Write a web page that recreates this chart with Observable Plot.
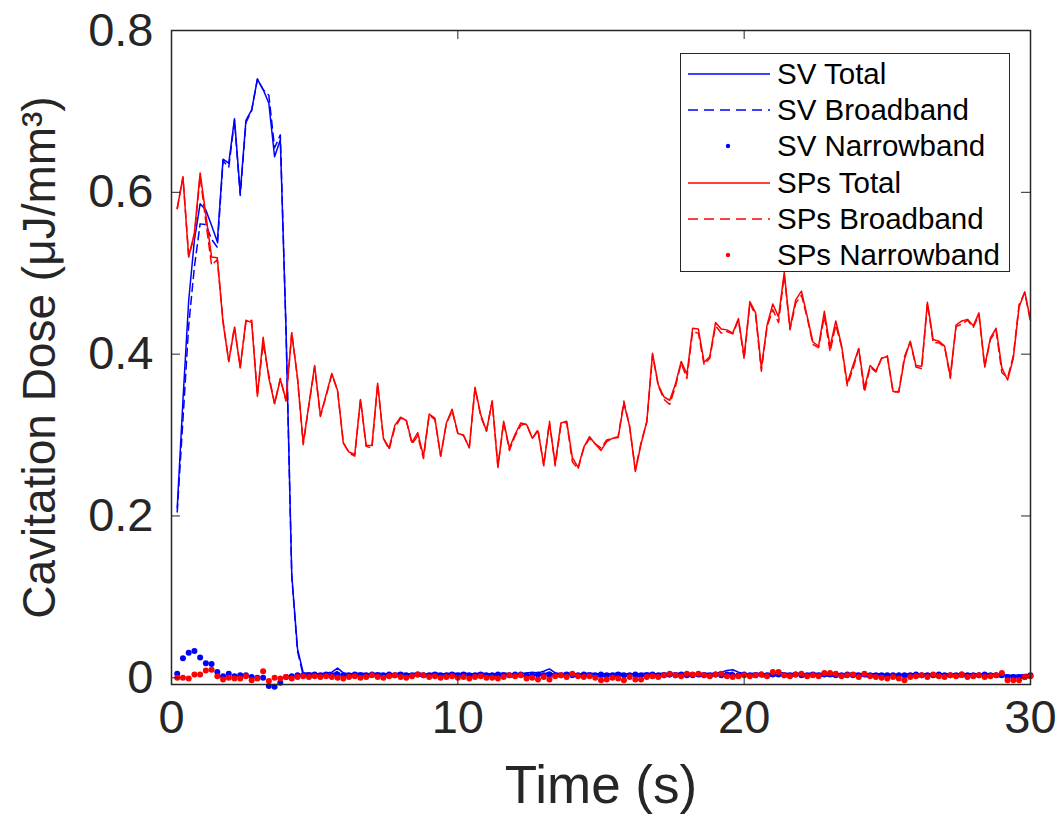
<!DOCTYPE html>
<html><head><meta charset="utf-8">
<script src="https://cdn.jsdelivr.net/npm/d3@7"></script>
<script src="https://cdn.jsdelivr.net/npm/@observablehq/plot@0.6"></script>
<style>
body{margin:0;background:#fff;}
#wrap{position:relative;width:1063px;height:824px;font-family:"Liberation Sans",Arial,sans-serif;}
#legend{position:absolute;left:680px;top:53px;width:328px;height:217px;border:1.5px solid #262626;background:#fff;}
.row{position:absolute;left:0;height:36px;display:flex;align-items:center;}
.row span{font-size:29.5px;color:#000;margin-left:6px;white-space:nowrap;}
</style>
</head><body>
<div id="wrap"><div id="legend"></div></div>
<script>
const time = [0.2,0.4,0.6,0.8,1.0,1.2,1.4,1.6,1.8,2.0,2.2,2.4,2.6,2.8,3.0,3.2,3.4,3.6,3.8,4.0,4.2,4.4,4.6,4.8,5.0,
5.2,5.4,5.6,5.8,6.0,6.2,6.4,6.6,6.8,7.0,7.2,7.4,7.6,7.8,8.0,8.2,8.4,8.6,8.8,9.0,9.2,9.4,9.6,9.8,10.0,
10.2,10.4,10.6,10.8,11.0,11.2,11.4,11.6,11.8,12.0,12.2,12.4,12.6,12.8,13.0,13.2,13.4,13.6,13.8,14.0,14.2,14.4,14.6,14.8,15.0,
15.2,15.4,15.6,15.8,16.0,16.2,16.4,16.6,16.8,17.0,17.2,17.4,17.6,17.8,18.0,18.2,18.4,18.6,18.8,19.0,19.2,19.4,19.6,19.8,20.0,
20.2,20.4,20.6,20.8,21.0,21.2,21.4,21.6,21.8,22.0,22.2,22.4,22.6,22.8,23.0,23.2,23.4,23.6,23.8,24.0,24.2,24.4,24.6,24.8,25.0,
25.2,25.4,25.6,25.8,26.0,26.2,26.4,26.6,26.8,27.0,27.2,27.4,27.6,27.8,28.0,28.2,28.4,28.6,28.8,29.0,29.2,29.4,29.6,29.8,30.0];

const svTotal = [0.210,0.343,0.466,0.541,0.586,0.578,0.559,0.539,0.641,0.636,0.691,0.599,0.689,0.702,0.740,0.727,0.710,0.644,0.665,0.430,0.127,0.036,0.006,
0.006,0.005,0.005,0.006,0.007,0.012,0.006,0.005,0.005,0.006,0.005,0.005,0.006,0.005,0.005,0.005,0.006,0.005,0.005,0.006,0.005,0.005,0.006,0.005,0.005,0.006,0.005,
0.006,0.005,0.005,0.006,0.005,0.005,0.005,0.006,0.005,0.005,0.005,0.006,0.007,0.006,0.008,0.011,0.006,0.005,0.006,0.005,0.005,0.005,0.006,0.005,0.005,
0.005,0.005,0.006,0.005,0.005,0.005,0.005,0.006,0.005,0.005,0.006,0.005,0.006,0.005,0.006,0.005,0.005,0.006,0.005,0.006,0.007,0.009,0.010,0.007,0.005,
0.005,0.006,0.005,0.005,0.006,0.007,0.006,0.005,0.006,0.005,0.005,0.006,0.005,0.006,0.006,0.005,0.005,0.005,0.006,0.005,0.005,0.005,0.005,0.005,0.004,
0.004,0.004,0.004,0.005,0.005,0.005,0.005,0.005,0.005,0.005,0.005,0.005,0.005,0.005,0.005,0.005,0.005,0.005,0.005,0.004,0.003,0.003,0.003,0.004,0.004];

const svBroadband = [0.205,0.319,0.435,0.508,0.561,0.560,0.542,0.532,0.639,0.631,0.689,0.596,0.686,0.701,0.740,0.727,0.720,0.655,0.671,0.429,0.125,0.033,0.003,
0.003,0.001,0.002,0.002,0.004,0.008,0.003,0.002,0.001,0.003,0.002,0.001,0.003,0.002,0.001,0.002,0.002,0.002,0.002,0.002,0.002,0.002,0.002,0.002,0.002,0.002,0.002,
0.002,0.002,0.002,0.002,0.002,0.002,0.001,0.003,0.002,0.001,0.001,0.003,0.004,0.002,0.005,0.007,0.003,0.002,0.002,0.002,0.002,0.001,0.003,0.002,0.001,
0.002,0.002,0.002,0.002,0.002,0.001,0.002,0.003,0.001,0.002,0.003,0.001,0.003,0.001,0.003,0.002,0.001,0.003,0.002,0.002,0.004,0.005,0.007,0.004,0.001,
0.002,0.003,0.001,0.002,0.002,0.003,0.003,0.002,0.002,0.002,0.002,0.002,0.002,0.002,0.002,0.002,0.002,0.001,0.003,0.002,0.001,0.002,0.002,0.002,0.001,
0.001,0.001,0.001,0.002,0.001,0.002,0.002,0.002,0.001,0.002,0.002,0.002,0.001,0.002,0.002,0.002,0.001,0.002,0.002,0.001,0.002,0.002,0.002,0.003,0.001];

const svNarrowband = [0.005,0.024,0.031,0.033,0.025,0.018,0.017,0.007,0.002,0.005,0.002,0.003,0.003,0.001,0.000,0.000,-0.010,-0.011,-0.006,0.001,0.002,0.003,0.003,0.003,0.004,
0.003,0.004,0.003,0.004,0.003,0.003,0.004,0.003,0.003,0.004,0.003,0.003,0.004,0.003,0.004,0.003,0.003,0.004,0.003,0.003,0.004,0.003,0.003,0.004,0.003,
0.004,0.003,0.003,0.004,0.003,0.003,0.004,0.003,0.003,0.004,0.004,0.003,0.003,0.004,0.003,0.004,0.003,0.003,0.004,0.003,0.003,0.004,0.003,0.003,0.004,
0.003,0.003,0.004,0.003,0.003,0.004,0.003,0.003,0.004,0.003,0.003,0.004,0.003,0.004,0.003,0.003,0.004,0.003,0.003,0.004,0.003,0.004,0.003,0.003,0.004,
0.003,0.003,0.004,0.003,0.004,0.004,0.003,0.003,0.004,0.003,0.003,0.004,0.003,0.004,0.004,0.003,0.003,0.004,0.003,0.003,0.004,0.003,0.003,0.003,0.003,
0.003,0.003,0.003,0.003,0.004,0.003,0.003,0.003,0.004,0.003,0.003,0.003,0.004,0.003,0.003,0.003,0.004,0.003,0.003,0.003,0.001,0.001,0.001,0.001,0.003];

const spTotal = [0.580,0.619,0.520,0.550,0.624,0.572,0.520,0.519,0.439,0.391,0.433,0.383,0.442,0.439,0.348,0.421,0.370,0.339,0.369,0.343,0.426,0.371,0.290,0.338,0.386,
0.324,0.350,0.376,0.355,0.290,0.279,0.276,0.344,0.287,0.287,0.364,0.296,0.284,0.312,0.322,0.318,0.291,0.303,0.274,0.326,0.321,0.274,0.315,0.332,0.302,
0.300,0.284,0.359,0.325,0.305,0.342,0.260,0.317,0.284,0.301,0.315,0.313,0.296,0.305,0.263,0.315,0.264,0.315,0.317,0.272,0.260,0.285,0.298,0.289,0.281,
0.292,0.296,0.297,0.339,0.311,0.255,0.289,0.317,0.401,0.362,0.347,0.343,0.363,0.391,0.375,0.432,0.431,0.390,0.397,0.439,0.431,0.430,0.426,0.444,0.397,
0.465,0.451,0.383,0.436,0.462,0.446,0.501,0.432,0.467,0.478,0.447,0.415,0.410,0.453,0.409,0.441,0.411,0.364,0.386,0.407,0.358,0.386,0.379,0.395,0.397,
0.354,0.353,0.394,0.416,0.386,0.385,0.464,0.418,0.416,0.410,0.373,0.436,0.441,0.443,0.435,0.451,0.385,0.420,0.432,0.383,0.368,0.395,0.458,0.477,0.442];

const spBroadband = [0.580,0.619,0.521,0.546,0.620,0.563,0.510,0.517,0.441,0.391,0.434,0.384,0.440,0.442,0.349,0.413,0.374,0.339,0.370,0.342,0.427,0.370,0.288,0.337,0.384,
0.323,0.348,0.375,0.355,0.291,0.278,0.274,0.344,0.286,0.284,0.363,0.296,0.282,0.309,0.321,0.318,0.289,0.299,0.271,0.325,0.319,0.274,0.314,0.330,0.302,
0.299,0.285,0.358,0.323,0.305,0.342,0.261,0.316,0.281,0.299,0.312,0.314,0.296,0.307,0.262,0.317,0.262,0.312,0.316,0.267,0.258,0.284,0.296,0.289,0.284,
0.294,0.296,0.298,0.342,0.310,0.257,0.291,0.316,0.399,0.361,0.344,0.338,0.360,0.389,0.370,0.428,0.426,0.387,0.395,0.435,0.426,0.428,0.425,0.442,0.394,
0.463,0.448,0.379,0.434,0.455,0.439,0.498,0.430,0.463,0.473,0.445,0.412,0.408,0.447,0.403,0.436,0.409,0.361,0.382,0.406,0.353,0.384,0.378,0.395,0.398,
0.353,0.354,0.397,0.415,0.384,0.382,0.463,0.414,0.414,0.409,0.370,0.434,0.437,0.442,0.433,0.448,0.384,0.418,0.429,0.377,0.371,0.398,0.461,0.476,0.440];

const spNarrowband = [0.000,0.000,-0.001,0.004,0.004,0.009,0.010,0.002,-0.002,0.000,-0.001,-0.001,0.002,-0.003,-0.001,0.008,-0.004,0.000,-0.001,0.001,-0.001,0.001,0.002,0.001,0.002,
0.001,0.002,0.001,0.000,-0.001,0.001,0.002,0.000,0.001,0.003,0.001,0.000,0.002,0.003,0.001,0.000,0.002,0.004,0.003,0.001,0.002,0.000,0.001,0.002,0.000,
0.001,-0.001,0.001,0.002,0.000,0.000,-0.001,0.001,0.003,0.002,0.003,-0.001,0.000,-0.002,0.001,-0.002,0.002,0.003,0.001,0.005,0.002,0.001,0.002,0.000,-0.003,
-0.002,0.000,-0.001,-0.003,0.001,-0.002,-0.002,0.001,0.002,0.001,0.003,0.005,0.003,0.002,0.005,0.004,0.005,0.003,0.002,0.004,0.005,0.002,0.001,0.002,0.003,
0.002,0.003,0.004,0.002,0.007,0.007,0.003,0.002,0.004,0.005,0.002,0.003,0.002,0.006,0.006,0.005,0.002,0.003,0.004,0.001,0.005,0.002,0.001,0.000,-0.001,
0.001,-0.001,-0.003,0.001,0.002,0.003,0.001,0.004,0.002,0.001,0.003,0.002,0.004,0.001,0.002,0.003,0.001,0.002,0.003,0.006,-0.003,-0.003,-0.003,0.001,0.002];

const xTicks = [0, 10, 20, 30];
const yTicks = [0, 0.2, 0.4, 0.6, 0.8];
const xLabel = "Time (s)";
const yLabel = "Cavitation Dose (μJ/mm³)";
const legendLabels = ["SV Total", "SV Broadband", "SV Narrowband", "SPs Total", "SPs Broadband", "SPs Narrowband"];
const legendKinds = ["solid", "dashed", "dot", "solid", "dashed", "dot"];
const BLUE = "#0000ff", RED = "#ff0000", AX = "#262626";
const legendColors = [BLUE, BLUE, BLUE, RED, RED, RED];

const rows = time.map((t, i) => ({t, svT: svTotal[i], svB: svBroadband[i], svN: svNarrowband[i], spT: spTotal[i], spB: spBroadband[i], spN: spNarrowband[i]}));

const chart = Plot.plot({
  width: 1063, height: 824,
  marginLeft: 171, marginRight: 33, marginTop: 30, marginBottom: 140,
  style: {fontFamily: '"Liberation Sans", Arial, sans-serif', background: "#fff", color: AX, overflow: "visible"},
  x: {domain: [0, 30]},
  y: {domain: [-0.0083, 0.8]},
  marks: [
    Plot.lineY(rows, {x: "t", y: "svT", stroke: BLUE, strokeWidth: 1.5}),
    Plot.lineY(rows, {x: "t", y: "svB", stroke: BLUE, strokeWidth: 1.5, strokeDasharray: "8,5"}),
    Plot.dot(rows, {x: "t", y: "svN", fill: BLUE, r: 3}),
    Plot.lineY(rows, {x: "t", y: "spT", stroke: RED, strokeWidth: 1.5}),
    Plot.lineY(rows, {x: "t", y: "spB", stroke: RED, strokeWidth: 1.5, strokeDasharray: "8,5"}),
    Plot.dot(rows, {x: "t", y: "spN", fill: RED, r: 3}),
    Plot.frame({stroke: AX, strokeWidth: 1.5}),
    Plot.tickY(yTicks, {y: d => d, stroke: AX, insetRight: 850}),
    Plot.tickY(yTicks, {y: d => d, stroke: AX, insetLeft: 850}),
    Plot.tickX(xTicks, {x: d => d, stroke: AX, insetTop: 645}),
    Plot.tickX(xTicks, {x: d => d, stroke: AX, insetBottom: 645}),
    Plot.axisY({ticks: yTicks, tickSize: 0, tickPadding: 18, fontSize: 47, tickFormat: d => String(d), label: null, fill: AX}),
    Plot.axisX({ticks: xTicks, tickSize: 0, tickPadding: 15, fontSize: 47, tickFormat: d => String(d), label: null, fill: AX}),
    Plot.text([xLabel], {text: d => d, frameAnchor: "bottom", textAnchor: "middle", lineAnchor: "middle", dy: 102, fontSize: 53, fill: AX}),
    Plot.text([yLabel], {text: d => d, frameAnchor: "left", textAnchor: "middle", lineAnchor: "middle", dx: -131, rotate: -90, fontSize: 46, fill: AX})
  ]
});
const wrap = document.getElementById("wrap");
wrap.insertBefore(chart, wrap.firstChild);

const legend = document.getElementById("legend");
legendLabels.forEach((label, i) => {
  const row = document.createElement("div");
  row.className = "row";
  row.style.top = (2 + i * 36.2) + "px";
  const ns = "http://www.w3.org/2000/svg";
  const s = document.createElementNS(ns, "svg");
  s.setAttribute("width", 90); s.setAttribute("height", 36);
  if (legendKinds[i] === "dot") {
    const c = document.createElementNS(ns, "circle");
    c.setAttribute("cx", 47); c.setAttribute("cy", 18); c.setAttribute("r", 2.2);
    c.setAttribute("fill", legendColors[i]);
    s.appendChild(c);
  } else {
    const l = document.createElementNS(ns, "line");
    l.setAttribute("x1", 7); l.setAttribute("x2", 89); l.setAttribute("y1", 18); l.setAttribute("y2", 18);
    l.setAttribute("stroke", legendColors[i]); l.setAttribute("stroke-width", 1.3);
    if (legendKinds[i] === "dashed") l.setAttribute("stroke-dasharray", "10,6");
    s.appendChild(l);
  }
  row.appendChild(s);
  const sp = document.createElement("span");
  sp.textContent = label;
  row.appendChild(sp);
  legend.appendChild(row);
});
</script>
</body></html>
